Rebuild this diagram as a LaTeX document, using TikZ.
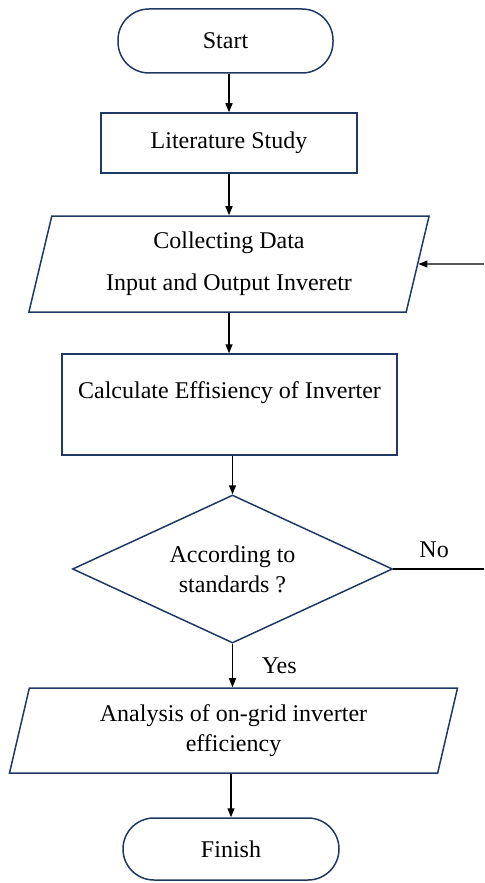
\documentclass[tikz,border=0pt]{standalone}
\usepackage{fontspec}
\setmainfont{Liberation Serif}
\usetikzlibrary{shapes.geometric, arrows.meta}
\definecolor{navy}{RGB}{32,56,100}

\begin{document}
\begin{tikzpicture}[x=0.5pt, y=-0.5pt,
    every node/.style={font=\fontsize{12}{15}\selectfont},
    term/.style={draw=navy, line width=0.75pt, rectangle, rounded corners=15.5pt, minimum width=107.5pt, minimum height=32pt},
    proc/.style={draw=navy, line width=0.75pt, rectangle},
    io/.style={draw=navy, line width=0.75pt, trapezium, trapezium left angle=76, trapezium right angle=104, trapezium stretches=true, align=center, inner sep=0pt},
    decision/.style={draw=navy, line width=0.75pt, diamond, aspect=2.16, align=center, inner sep=0pt, minimum width=160pt, minimum height=74pt},
    arr/.style={-{Triangle[length=4.5pt, width=3.5pt]}, line width=0.65pt}]
    \useasboundingbox (0,0) rectangle (484,883);

    \node[term] (start) at (225.5,41) {Start};
    \node[proc, minimum width=128pt, minimum height=30pt] (lit) at (229,143) {Literature Study};
    \node[io, minimum width=200.5pt, minimum height=48pt] (col) at (229,264) {Collecting Data\\[6pt]Input and Output Inveretr};
    \node[proc, minimum width=167.5pt, minimum height=50.5pt, text height=8.5pt, text depth=15pt] (calc) at (229.5,404.5) {Calculate Effisiency of Inverter};
    \node[decision] (dec) at (232.5,569) {According to\\standards ?};
    \node[io, minimum width=224.5pt, minimum height=42.5pt] (ana) at (233.5,730.5) {Analysis of on-grid inverter\\efficiency};
    \node[term, minimum width=108pt, minimum height=31pt] (fin) at (231,849) {Finish};

    \coordinate (noend) at (484,569);
    \coordinate (back) at (484,264);

    \draw[arr] (start.south -| lit.north) -- (lit.north);
    \draw[arr] (lit.south) -- (lit.south |- col.north);
    \draw[arr] (col.south) -- (col.south |- calc.north);
    \draw[arr] (calc.south -| dec.north) -- (dec.north);
    \draw[arr] (dec.south) -- node[right, xshift=11pt] {Yes} (dec.south |- ana.north);
    \draw[arr] (fin.north |- ana.south) -- (fin.north);
    \draw[line width=0.65pt] (dec.east) -- node[above, pos=0.45, yshift=2pt] {No} (noend);
    \draw[arr] (back) -- (col.east);
\end{tikzpicture}
\end{document}
